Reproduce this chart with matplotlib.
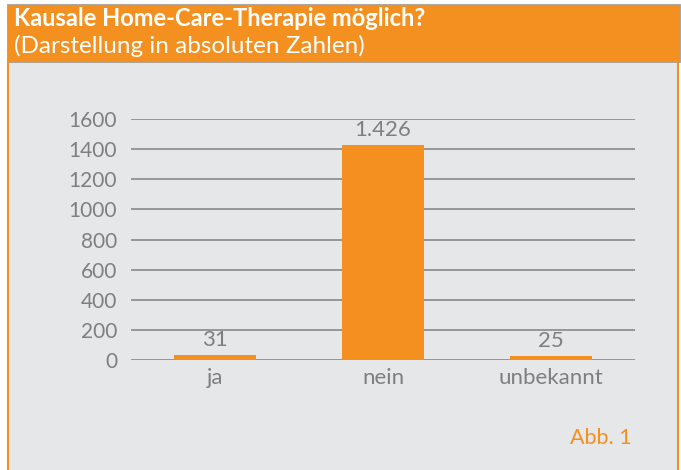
import matplotlib.pyplot as plt
from matplotlib.patches import Rectangle
from matplotlib.lines import Line2D

categories = ['ja', 'nein', 'unbekannt']
counts = [31, 1426, 25]
value_labels = ['31', '1.426', '25']
yticks = [0, 200, 400, 600, 800, 1000, 1200, 1400, 1600]

orange = '#f39020'
grey_bg = '#e6e7e8'
text_grey = '#7f7f7f'

plt.rcParams['font.family'] = ['Lato', 'DejaVu Sans']

fig = plt.figure(figsize=(6.81, 4.70), dpi=100)
fig.patch.set_facecolor('white')

# grey panel with orange frame, orange header band
fig.add_artist(Rectangle((8 / 681, 0), 670 / 681, 1 - 62 / 470,
                         transform=fig.transFigure, facecolor=grey_bg,
                         edgecolor='none', zorder=0))
fig.add_artist(Line2D([8 / 681, 8 / 681], [0, 1 - 62 / 470], color=orange,
                      lw=1.5, transform=fig.transFigure))
fig.add_artist(Line2D([678 / 681, 678 / 681], [0, 1 - 62 / 470], color=orange,
                      lw=1.5, transform=fig.transFigure))
fig.add_artist(Rectangle((7 / 681, 1 - 62 / 470), 673 / 681, 58 / 470,
                         transform=fig.transFigure, facecolor=orange,
                         edgecolor='#a0a0a0', lw=0.6, zorder=1))
fig.text(14 / 681, 1 - 19 / 470, 'Kausale Home-Care-Therapie möglich?',
         color='white', fontsize=17, fontweight='bold', va='center', ha='left')
fig.text(14 / 681, 1 - 46 / 470, '(Darstellung in absoluten Zahlen)',
         color='white', fontsize=17.5, va='center', ha='left')

ax = fig.add_axes([131 / 681, 1 - 360 / 470, 504 / 681, 241 / 470])
ax.set_facecolor('none')
x = range(len(categories))
bars = ax.bar(x, counts, width=0.49, color=orange, zorder=3)
ax.set_xlim(-0.5, 2.5)
ax.set_ylim(0, 1600)
ax.set_yticks(yticks)
ax.set_xticks(list(x))
ax.set_xticklabels(categories)
ax.grid(axis='y', color='#808080', lw=1.1, zorder=1)
for s in ax.spines.values():
    s.set_visible(False)
ax.tick_params(length=0, colors=text_grey)
ax.tick_params(axis='y', pad=10, labelsize=15)
ax.tick_params(axis='x', pad=6, labelsize=16)

for b, lab in zip(bars, value_labels):
    ax.annotate(lab, (b.get_x() + b.get_width() / 2, b.get_height()),
                xytext=(0, 4), textcoords='offset points', ha='center',
                va='bottom', color=text_grey, fontsize=16)

fig.text(632 / 681, 1 - 438 / 470, 'Abb. 1', color=orange, fontsize=15.5,
         ha='right', va='center')

plt.savefig('out.png', dpi=100)
